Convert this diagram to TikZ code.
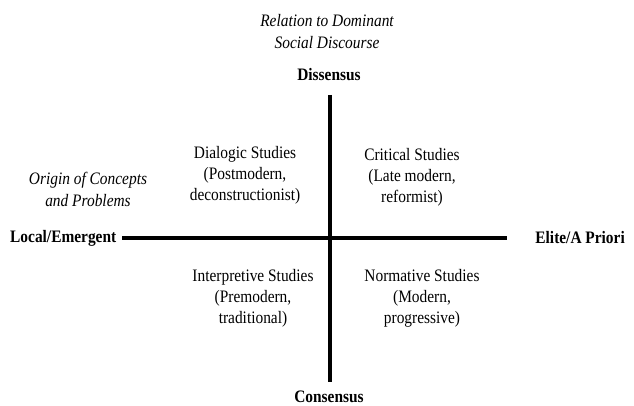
\documentclass[tikz,border=0pt]{standalone}
\usepackage{fontspec}
\setmainfont[FakeStretch=0.88]{Liberation Serif}
\begin{document}
\begin{tikzpicture}[x=1pt,y=-1pt,
  lbl/.style={font=\fontsize{17.5}{21}\selectfont, align=center, inner sep=1pt},
  axlbl/.style={font=\fontsize{17.5}{21}\selectfont\bfseries, inner sep=1pt},
  ttl/.style={font=\fontsize{17.5}{22}\selectfont\itshape, align=center, inner sep=1pt},
  vaxis/.style={line width=3.2pt},
  haxis/.style={line width=4pt}]
\useasboundingbox (0,0) rectangle (634,406);
\node[ttl] (rel) at (327,31.5) {Relation to Dominant\\Social Discourse};
\node[axlbl] (dis) at (329,75) {Dissensus};
\node[axlbl] (con) at (329,397) {Consensus};
\node[axlbl, anchor=west] (loc) at (9,238) {Local/Emergent};
\node[axlbl, anchor=east] (eli) at (626,238) {Elite/A Priori};
\node[ttl] (ori) at (88,189) {Origin of Concepts\\and Problems};
\node[lbl] (dia) at (245,175) {Dialogic Studies\\(Postmodern,\\deconstructionist)};
\node[lbl] (cri) at (412,177) {Critical Studies\\(Late modern,\\reformist)};
\node[lbl] (int) at (253,298) {Interpretive Studies\\(Premodern,\\traditional)};
\node[lbl] (nor) at (422,298) {Normative Studies\\(Modern,\\progressive)};
\coordinate (vt) at (330,95);
\coordinate (vb) at (330,382);
\coordinate (hl) at (122,238);
\coordinate (hr) at (507,238);
\draw[vaxis] (vt) -- (vb);
\draw[haxis] (hl) -- (hr);
\end{tikzpicture}
\end{document}
